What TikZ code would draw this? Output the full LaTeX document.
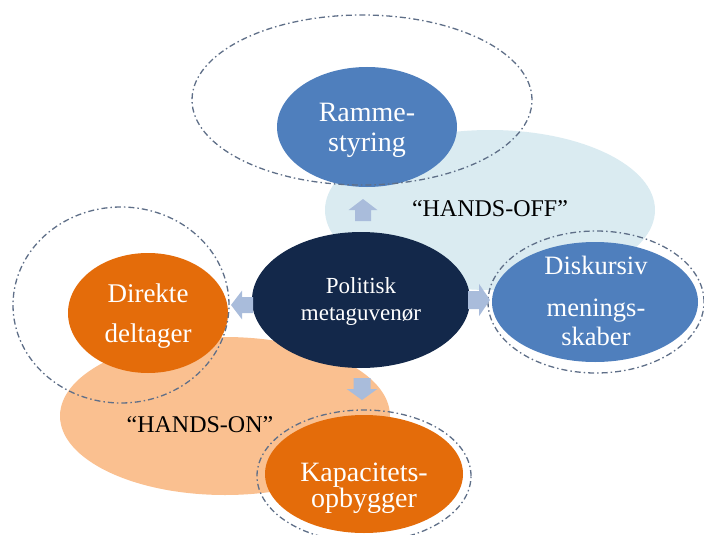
\documentclass[tikz,border=0pt]{standalone}
\usepackage{fontspec}
\setmainfont{Liberation Serif}
\usetikzlibrary{shapes.geometric}
\definecolor{lblue}{HTML}{DAEBF1}
\definecolor{mblue}{HTML}{4F7FBD}
\definecolor{navy}{HTML}{13284A}
\definecolor{dorange}{HTML}{E46C0A}
\definecolor{lorange}{HTML}{FAC090}
\definecolor{arrowc}{HTML}{A9BCDB}
\definecolor{dashc}{HTML}{5F6F88}
\tikzset{
  blob/.style={ellipse, inner sep=0pt, draw=none},
  ring/.style={ellipse, inner sep=0pt, draw=dashc, line width=1.3pt,
               dash pattern=on 6pt off 3pt on 1.5pt off 3pt},
  lbl/.style={text=white, align=center, inner sep=0pt},
  hands/.style={text=black, inner sep=0pt, font=\fontsize{24}{26}\selectfont},
  barrow/.pic={\fill[arrowc] (0,-10) -- (11,-10) -- (11,-18) -- (22,0) -- (11,18) -- (11,10) -- (0,10) -- cycle;}
}
\begin{document}
\begin{tikzpicture}[x=1pt,y=-1pt]
\useasboundingbox (0,0) rectangle (704,535);
% background groups
\node[blob, fill=lblue, minimum width=330pt, minimum height=160pt] (offbg) at (490,210) {};
\node[blob, fill=lorange, minimum width=330pt, minimum height=158pt] (onbg) at (225,416) {};
% filled ellipses
\node[blob, fill=mblue, minimum width=180pt, minimum height=120pt] (ramme) at (367,127) {};
\node[blob, fill=dorange, minimum width=160pt, minimum height=120pt] (direkte) at (148,313) {};
\node[blob, fill=navy, minimum width=218pt, minimum height=136pt] (pol) at (361,300) {};
\node[blob, fill=mblue, minimum width=206pt, minimum height=120pt] (disk) at (595,302) {};
\node[blob, fill=dorange, minimum width=198pt, minimum height=118pt] (kap) at (364,474) {};
% dashed rings
\node[ring, minimum width=340pt, minimum height=170pt] (rammering) at (362,100) {};
\node[ring, minimum width=216pt, minimum height=196pt] (direktering) at (121,305) {};
\node[ring, minimum width=216pt, minimum height=142pt] (diskring) at (596,302) {};
\node[ring, minimum width=214pt, minimum height=132pt] (kapring) at (364,476) {};
% block arrows
\pic[rotate=90, yscale=0.8] at (363,221) {barrow};
\pic[rotate=180, yscale=0.8] at (253,305) {barrow};
\pic[rotate=0, yscale=0.9] at (468,300) {barrow};
\pic[rotate=-90, yscale=0.85] at (362,378) {barrow};
% texts
\node[lbl, font=\fontsize{28}{30}\selectfont] (rammet) at (367,130) {Ramme-\\styring};
\node[lbl, font=\fontsize{23}{27}\selectfont] (polt) at (361,301) {Politisk\\metaguvenør};
\node[lbl, font=\fontsize{26.5}{29}\selectfont] (diskt) at (596,301) {Diskursiv\\[13pt]menings-\\skaber};
\node[lbl, font=\fontsize{27}{40}\selectfont] (direktet) at (148,316) {Direkte\\deltager};
\node[lbl, font=\fontsize{28}{26}\selectfont] (kapt) at (364,488) {Kapacitets-\\opbygger};
\node[hands] (offt) at (490,208.5) {“HANDS-OFF”};
\node[hands] (ont) at (200,425) {“HANDS-ON”};
\end{tikzpicture}
\end{document}
